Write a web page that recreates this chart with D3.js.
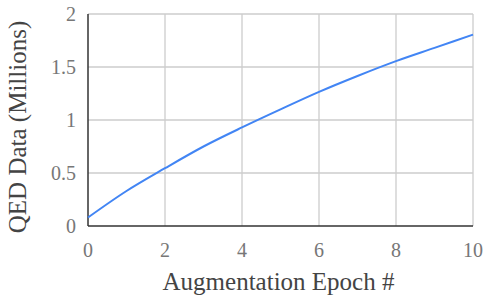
<!DOCTYPE html>
<html>
<head>
<meta charset="UTF-8">
<script src="https://cdnjs.cloudflare.com/ajax/libs/d3/7.8.5/d3.min.js"></script>
</head>
<body>
<div id="chart"></div>
<script>
var epochs = [0, 1, 2, 3, 4, 5, 6, 7, 8, 9, 10];
var qedData = [0.08, 0.33, 0.545, 0.75, 0.93, 1.10, 1.265, 1.415, 1.555, 1.68, 1.805];
var xTicks = [0, 2, 4, 6, 8, 10];
var yTicks = [0, 0.5, 1, 1.5, 2];

var w = 487, h = 297,
    m = { left: 88, right: 14, top: 14, bottom: 71 },
    serif = "Liberation Serif";

d3.select("body").style("margin", "0px").style("background", "#fff");

var svg = d3.select("#chart").append("svg")
    .attr("width", w)
    .attr("height", h)
    .style("font-family", serif)
    .style("display", "block");

var x = d3.scaleLinear().domain([0, 10]).range([m.left, w - m.right]);
var y = d3.scaleLinear().domain([0, 2]).range([h - m.bottom, m.top]);

// grid
svg.selectAll(".vgrid").data(xTicks.slice(1)).enter().append("line")
    .attr("x1", d => x(d)).attr("x2", d => x(d))
    .attr("y1", y(0)).attr("y2", y(2))
    .attr("stroke", "#cccccc").attr("stroke-width", 1.3);
svg.selectAll(".hgrid").data(yTicks.slice(1)).enter().append("line")
    .attr("x1", x(0)).attr("x2", x(10))
    .attr("y1", d => y(d)).attr("y2", d => y(d))
    .attr("stroke", "#cccccc").attr("stroke-width", 1.3);

// axes lines
svg.append("line")
    .attr("x1", x(0)).attr("x2", x(0)).attr("y1", y(0)).attr("y2", y(2))
    .attr("stroke", "#333").attr("stroke-width", 1.5);
svg.append("line")
    .attr("x1", x(0)).attr("x2", x(10)).attr("y1", y(0)).attr("y2", y(0))
    .attr("stroke", "#333").attr("stroke-width", 1.5);

// tick labels
svg.selectAll(".ylab").data(yTicks).enter().append("text")
    .attr("x", x(0) - 12)
    .attr("y", d => y(d) + 7)
    .attr("text-anchor", "end")
    .style("font-family", serif)
    .style("font-size", "20px")
    .attr("fill", "#777")
    .text(d => d);
svg.selectAll(".xlab").data(xTicks).enter().append("text")
    .attr("x", d => x(d))
    .attr("y", y(0) + 31)
    .attr("text-anchor", "middle")
    .style("font-family", serif)
    .style("font-size", "20px")
    .attr("fill", "#777")
    .text(d => d);

// titles
svg.append("text")
    .attr("x", x(5) - 2)
    .attr("y", 290)
    .attr("text-anchor", "middle")
    .style("font-family", serif)
    .style("font-size", "25px")
    .style("fill", "#444")
    .text("Augmentation Epoch #");
svg.append("text")
    .attr("transform", "translate(26,127) rotate(-90)")
    .attr("text-anchor", "middle")
    .style("font-family", serif)
    .style("font-size", "25px")
    .style("fill", "#444")
    .text("QED Data (Millions)");

// line
var line = d3.line()
    .x((d, i) => x(epochs[i]))
    .y(d => y(d))
    .curve(d3.curveMonotoneX);
svg.append("path")
    .datum(qedData)
    .attr("d", line)
    .attr("fill", "none")
    .attr("stroke", "#4285f4")
    .attr("stroke-width", 2);
</script>
</body>
</html>
